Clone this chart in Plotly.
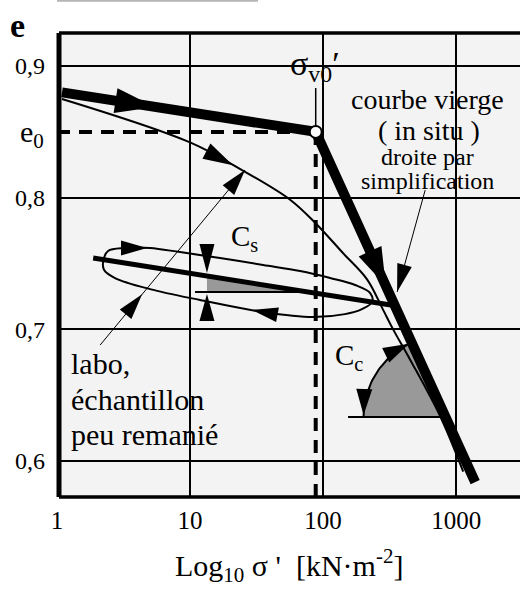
import numpy as np
import plotly.graph_objects as go

# ---------------- data (sigma' in kN/m2, void ratio e) ----------------
SIGMA_V0 = 88.0
E0 = 0.85

# in-situ (virgin) curve, simplified as two straight segments
insitu_sigma = [1.09, SIGMA_V0, 1390.0]
insitu_e = [0.880, E0, 0.584]

# laboratory curve, slightly disturbed sample
labo_sigma = [1.09, 10.0, 24.6, 56.5, 87.1, 141.0, 214.0, 282.0, 336.0, 451.0, 759.0, 1130.0]
labo_e = [0.875, 0.842, 0.821, 0.7985, 0.781, 0.758, 0.738, 0.715, 0.700, 0.677, 0.634, 0.592]

# unloading / reloading cycle
cycle_sigma = [2.22, 2.42, 3.25, 5.00, 8.41, 16.8, 35.4, 67.1, 113.0, 174.0, 226.0, 234.0,
               196.0, 146.0, 84.1, 35.4, 11.9, 5.00, 2.73, 2.26, 2.22]
cycle_e = [0.7511, 0.7595, 0.7618, 0.7618, 0.7587, 0.7542, 0.7489, 0.7443, 0.7390, 0.7337,
           0.7276, 0.7208, 0.7154, 0.7116, 0.7094, 0.7132, 0.7223, 0.7306, 0.7390, 0.7451, 0.7511]

# swelling line (Cs)
cs_sigma = [1.87, 360.0]
cs_e = [0.7542, 0.7177]

# construction levels for the Cs / Cc slope markers
cs_mark_sigma = 13.4
cs_base_left_sigma = 10.9
cs_base_e = 0.7284
cc_base_left_sigma = 154.0
cc_base_e = 0.6334

x_tick_vals = [1, 10, 100, 1000]
x_tick_text = ["1", "10", "100", "1000"]
y_tick_vals = [0.6, 0.7, 0.8, 0.9]
y_tick_text = ["0,6", "0,7", "0,8", "0,9"]

# ---------------- layout geometry ----------------
W, H = 520, 590
M = dict(l=57, r=0, t=33, b=93)
X_RANGE = [0.0, 3.48]
Y_RANGE = [0.5727, 0.9251]
PW = W - M["l"] - M["r"]
PH = H - M["t"] - M["b"]
KX = PW / (X_RANGE[1] - X_RANGE[0])   # px per decade
KY = PH / (Y_RANGE[1] - Y_RANGE[0])   # px per unit of e

FONT = "Liberation Serif, Times New Roman, serif"
GRAY = "#999999"
BG = "#f3f3f3"


def to_px(s, e):
    return np.log10(np.asarray(s, float)) * KX, np.asarray(e, float) * KY


def to_data(X, Y):
    return 10 ** (np.asarray(X, float) / KX), np.asarray(Y, float) / KY


def paper(px, py):
    return (px - M["l"]) / PW, (H - M["b"] - py) / PH


def head(tip, direction, length, width):
    tx, ty = tip
    dx, dy = direction
    n = np.hypot(dx, dy)
    dx, dy = dx / n, dy / n
    bx, by = tx - length * dx, ty - length * dy
    nx, ny = -dy, dx
    X = [tx, bx + width / 2 * nx, bx - width / 2 * nx, tx]
    Y = [ty, by + width / 2 * ny, by - width / 2 * ny, ty]
    return to_data(X, Y)


def on_path(sig, e, s_at, lo=0, hi=None):
    X, Y = to_px(sig[lo:hi], e[lo:hi])
    xt = np.log10(s_at) * KX
    for i in range(len(X) - 1):
        if X[i] != X[i + 1] and min(X[i], X[i + 1]) <= xt <= max(X[i], X[i + 1]):
            t = (xt - X[i]) / (X[i + 1] - X[i])
            return (xt, Y[i] + t * (Y[i + 1] - Y[i])), (X[i + 1] - X[i], Y[i + 1] - Y[i])
    raise ValueError("outside path")


traces = []


def poly(xs, ys, color="black"):
    traces.append(go.Scatter(x=list(xs), y=list(ys), mode="lines", fill="toself",
                             fillcolor=color, line=dict(width=0, color=color),
                             hoverinfo="skip", showlegend=False))


def line(xs, ys, width, dash=None, shape="linear", color="black"):
    traces.append(go.Scatter(x=list(xs), y=list(ys), mode="lines",
                             line=dict(width=width, color=color, dash=dash, shape=shape,
                                       smoothing=1.0 if shape == "spline" else None),
                             hoverinfo="skip", showlegend=False))


# ---- Cs triangle ----
cs_logs = np.log10(cs_sigma)
cs_top_e = np.interp(np.log10(cs_mark_sigma), cs_logs, cs_e)
cs_right_log = np.interp(cs_base_e, cs_e[::-1], cs_logs[::-1])
poly([cs_mark_sigma, cs_mark_sigma, 10 ** cs_right_log, cs_mark_sigma],
     [cs_top_e, cs_base_e, cs_base_e, cs_top_e], GRAY)

# ---- Cc sector ----
steep_logs = np.log10(insitu_sigma[1:])
steep_e = insitu_e[1:]
cc_center_log = np.interp(cc_base_e, steep_e[::-1], steep_logs[::-1])
cX, cY = cc_center_log * KX, cc_base_e * KY
R = 82.0
slope_px = (steep_e[0] - steep_e[1]) * KY / ((steep_logs[1] - steep_logs[0]) * KX)
a_line = np.degrees(np.arctan2(slope_px, -1.0))
ang = np.radians(np.linspace(a_line, 180.0, 40))
arcX, arcY = cX + R * np.cos(ang), cY + R * np.sin(ang)
sx, sy = to_data(np.r_[cX, arcX, cX], np.r_[cY, arcY, cY])
poly(sx, sy, GRAY)

# ---- reference construction lines ----
line([1.0, SIGMA_V0], [E0, E0], 4, dash="13px,9px")
line([SIGMA_V0, SIGMA_V0], [Y_RANGE[0], E0], 4, dash="13px,9px")
line([SIGMA_V0, SIGMA_V0], [E0, 0.8833], 1.5)
line([cs_base_left_sigma, 10 ** cs_right_log], [cs_base_e, cs_base_e], 2)
line([cc_base_left_sigma, 10 ** cc_center_log], [cc_base_e, cc_base_e], 2)
ax_, ay_ = to_data(arcX, arcY)
line(ax_, ay_, 2)

# leader lines
labo_leader_sigma = [2.11, 25.9]
labo_leader_e = [0.6881, 0.8210]
droite_leader_sigma = [585.0, 360.0]
droite_leader_e = [0.8058, 0.7284]
line(labo_leader_sigma, labo_leader_e, 1)
line(droite_leader_sigma, droite_leader_e, 1)

# ---- curves ----
line(labo_sigma, labo_e, 2, shape="spline")
line(cycle_sigma, cycle_e, 2, shape="spline")
line(cs_sigma, cs_e, 5)
line(insitu_sigma, insitu_e, 10)

# ---- arrowheads ----
heads = []
t, d = on_path(insitu_sigma, insitu_e, 5.46, 0, 2)
heads.append(head(t, d, 40, 25))
t, d = on_path(insitu_sigma, insitu_e, 296.0, 1, 3)
heads.append(head(t, d, 38, 25))
t, d = on_path(labo_sigma, labo_e, 21.0, 0, 4)
heads.append(head(t, d, 30, 17))
t, d = on_path(cycle_sigma, cycle_e, 4.75, 1, 9)
heads.append(head(t, d, 26, 15))
t, d = on_path(cycle_sigma, cycle_e, 29.2, 13, 18)
heads.append(head(t, d, 26, 15))

# leader arrowheads
LX, LY = to_px(labo_leader_sigma, labo_leader_e)
ld = (LX[1] - LX[0], LY[1] - LY[0])
heads.append(head((LX[1], LY[1]), ld, 26, 15))
heads.append(head((LX[0] + 0.29 * ld[0], LY[0] + 0.29 * ld[1]), ld, 26, 15))
DX, DY = to_px(droite_leader_sigma, droite_leader_e)
heads.append(head((DX[1], DY[1]), (DX[1] - DX[0], DY[1] - DY[0]), 28, 15))

# Cs vertical arrows
mX = np.log10(cs_mark_sigma) * KX
heads.append(head((mX, cs_top_e * KY + 3), (0, -1), 29, 15))
heads.append(head((mX, cs_base_e * KY - 2), (0, 1), 27, 15))

# Cc arc arrows
a_top = np.radians(a_line + 2.0)
heads.append(head((cX + R * np.cos(a_top), cY + R * np.sin(a_top)),
                  (np.sin(a_top), -np.cos(a_top)), 26, 16))
a_bot = np.radians(178.5)
heads.append(head((cX + R * np.cos(a_bot), cY + R * np.sin(a_bot)),
                  (-np.sin(a_bot), np.cos(a_bot)), 26, 16))

for hx, hy in heads:
    poly(hx, hy)

# preconsolidation point
traces.append(go.Scatter(x=[SIGMA_V0], y=[E0], mode="markers",
                         marker=dict(size=12, color="white", line=dict(color="black", width=2)),
                         hoverinfo="skip", showlegend=False))

fig = go.Figure(traces)

# ---- masks behind the text blocks (hide gridlines) ----
shapes = []
for (x0, y0, x1, y1) in [(286, 58, 341, 87), (343, 72, 518, 193), (66, 348, 214, 455)]:
    px0, py0 = paper(x0, y1)
    px1, py1 = paper(x1, y0)
    shapes.append(dict(type="rect", xref="paper", yref="paper", x0=px0, x1=px1, y0=py0, y1=py1,
                       fillcolor=BG, line=dict(width=0), layer="between"))

# frame
bx0, _ = paper(59, 0)
shapes.append(dict(type="line", xref="paper", yref="paper", x0=bx0, x1=bx0, y0=0, y1=1,
                   line=dict(color="black", width=5), layer="above"))
shapes.append(dict(type="line", xref="paper", yref="paper", x0=bx0, x1=1.01, y0=1, y1=1,
                   line=dict(color="black", width=3.5), layer="above"))
shapes.append(dict(type="line", xref="paper", yref="paper", x0=bx0, x1=1.01, y0=0, y1=0,
                   line=dict(color="black", width=3.5), layer="above"))
# thin rule above the figure
tx0, ty0 = paper(57, 0.8)
tx1, _ = paper(258, 0.8)
shapes.append(dict(type="line", xref="paper", yref="paper", x0=tx0, x1=tx1, y0=ty0, y1=ty0,
                   line=dict(color="#b5b5b5", width=2)))

annotations = []


def text(s, px, py, size, xanchor="center", bold=False):
    x, y = paper(px, py)
    if bold:
        s = "<b>" + s + "</b>"
    annotations.append(dict(text=s, x=x, y=y, xref="paper", yref="paper", showarrow=False,
                            xanchor=xanchor, yanchor="middle",
                            font=dict(family=FONT, size=size, color="black")))


text("e", 17, 25, 34, bold=True)
text("e<sub>0</sub>", 46, 134, 30, xanchor="right")
text("σ<sub>v0</sub>′", 315, 66, 34)
text("courbe vierge", 427, 100, 28)
text("( in situ )", 429, 130, 28)
text("droite par", 427, 157, 24)
text("simplification", 427, 181, 24)
text("labo,", 69, 363, 30, xanchor="left")
text("échantillon", 69, 399, 30, xanchor="left")
text("peu remanié", 69, 434, 30, xanchor="left")
text("C<sub>s</sub>", 244, 238, 29)
text("C<sub>c</sub>", 349, 357, 29)
text("Log<sub>10</sub> σ '&nbsp;&nbsp;[kN·m<sup>-2</sup>]", 289, 565, 30)

fig.update_layout(
    width=W, height=H, margin=M,
    paper_bgcolor="white", plot_bgcolor=BG,
    showlegend=False, hovermode=False,
    shapes=shapes, annotations=annotations,
    xaxis=dict(type="log", range=X_RANGE, tickvals=x_tick_vals, ticktext=x_tick_text,
               showgrid=True, gridcolor="black", gridwidth=2, zeroline=False,
               showline=False, ticks="", ticklabelstandoff=6,
               tickfont=dict(family=FONT, size=25, color="black")),
    yaxis=dict(range=Y_RANGE, tickvals=y_tick_vals, ticktext=y_tick_text,
               showgrid=True, gridcolor="black", gridwidth=2, zeroline=False,
               showline=False, ticks="", ticklabelstandoff=11,
               tickfont=dict(family=FONT, size=24, color="black")),
)

fig.write_html("out.html")
